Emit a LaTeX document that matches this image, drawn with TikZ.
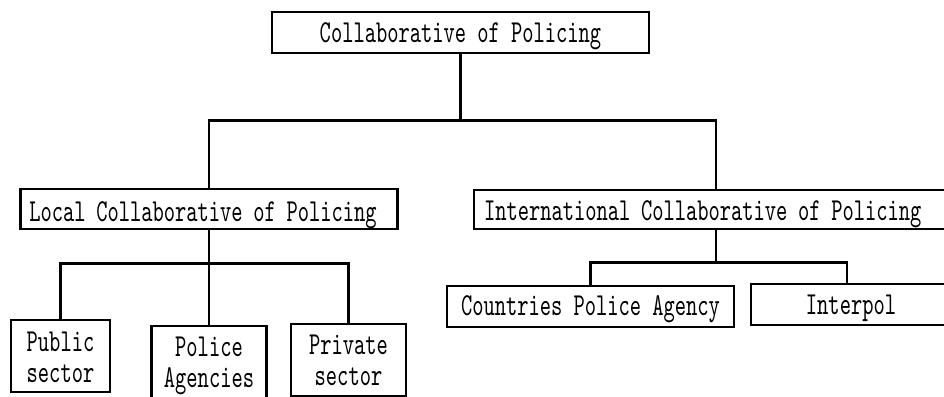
\documentclass[tikz,border=0pt]{standalone}
\usepackage{fontspec}
\newfontfamily\boxfont{lmmono10-regular.otf}[FakeStretch=0.6703]
\begin{document}
\begin{tikzpicture}[x=1pt, y=-1pt, line width=2.6pt,
  box/.style={draw, rectangle, line width=2.6pt, inner ysep=0pt,
    font=\boxfont\fontsize{32}{31}\selectfont, text depth=0pt}]
\useasboundingbox (0,0) rectangle (944,396);
\clip (0,0) rectangle (944,396);
% level 0
\node[box, minimum width=377pt, minimum height=41pt, text height=20.4pt] (T) at (460.5,32.5) {Collaborative of Policing};
% level 1
\node[box, minimum width=377pt, minimum height=40pt, inner xsep=8.8pt, text width=359.4pt, align=left, text height=25.4pt] (L) at (209,209) {Local Collaborative of Policing};
\node[box, minimum width=484pt, minimum height=39pt, inner xsep=10pt, text width=464pt, align=left, text height=22.4pt] (I) at (716,209.5) {International Collaborative of Policing};
% level 2 (local)
\node[box, minimum width=99pt, minimum height=72pt, align=center, text height=52pt] (Pu) at (60.5,356) {Public\\sector};
\node[box, minimum width=115pt, minimum height=72pt, align=center, text height=50pt] (Po) at (209,362) {Police\\Agencies};
\node[box, minimum width=115pt, minimum height=72pt, align=center, text height=50pt] (Pv) at (348.5,360) {Private\\sector};
% level 2 (international)
\node[box, minimum width=287pt, minimum height=41pt, text height=18pt] (C) at (590.5,306.5) {Countries Police Agency};
\node[box, minimum width=200pt, minimum height=41pt, text height=19.6pt] (P) at (851,304.5) {Interpol};
% connectors
\coordinate (j1) at (0,120.5);
\coordinate (j2) at (0,263.5);
\coordinate (j3) at (847,262.5);
\draw (T.south) -- (T.south |- j1);
\draw (L.north) -- (L.north |- j1) -- (I.north |- j1) -- (I.north);
\draw (L.south) -- (Po.north);
\draw (Pu.north) -- (Pu.north |- j2) -- (Pv.north |- j2) -- (Pv.north);
\draw (I.south) -- (I.south |- j3);
\draw (C.north) -- (C.north |- j3) -- (j3) -- (j3 |- P.north);
\end{tikzpicture}
\end{document}
